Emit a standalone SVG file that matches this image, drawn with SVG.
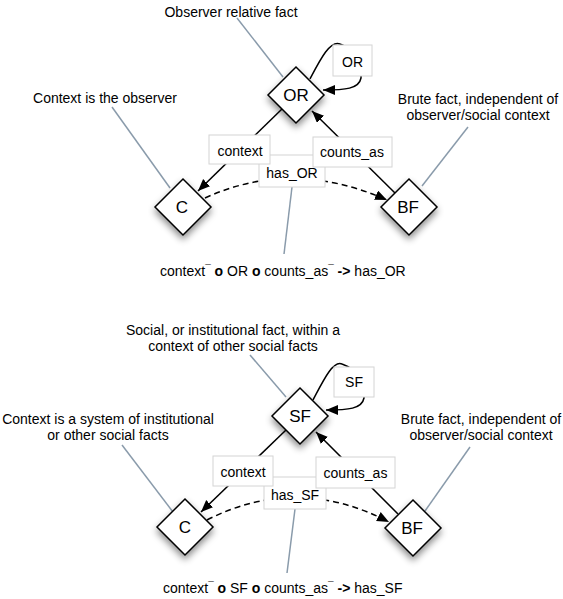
<svg xmlns="http://www.w3.org/2000/svg" width="563" height="599" viewBox="0 0 563 599">
<style>
text{font-family:"Liberation Sans",Arial,sans-serif;fill:#000}
.ann{font-size:14px;text-anchor:middle}
.lbl{font-size:14px;text-anchor:middle}
.node{font-size:17px;text-anchor:middle}
.lead{stroke:#8a9bab;stroke-width:1.5;fill:none}
.edge{stroke:#000;stroke-width:1.5;fill:none}
.dash{stroke:#000;stroke-width:1.5;fill:none;stroke-dasharray:6 4}
.box{fill:#fff;stroke:#d4d4d4;stroke-width:1}
.dia{fill:#fff;stroke:#000;stroke-width:1.5;filter:url(#sh)}
.f{font-size:14px}
</style>
<defs>
<marker id="ah" markerUnits="userSpaceOnUse" markerWidth="13" markerHeight="11" refX="12" refY="5" orient="auto">
<path d="M0,0 L12,5 L0,10 z" fill="#000"/>
</marker>
<filter id="sh" x="-50%" y="-50%" width="200%" height="200%">
<feDropShadow dx="0" dy="4" stdDeviation="3.5" flood-color="#000" flood-opacity="0.45"/>
</filter>
</defs>

<!-- annotations top -->
<g id="notes-top">
<text class="ann" x="231" y="17">Observer relative fact</text>
<text class="ann" x="105" y="103">Context is the observer</text>
<text class="ann" x="478" y="104">Brute fact, independent of</text>
<text class="ann" x="478" y="120">observer/social context</text>
<text class="f" x="160" y="276">context<tspan font-size="10" dy="-3">¯</tspan><tspan dy="3"> </tspan><tspan font-weight="bold">o</tspan> OR <tspan font-weight="bold">o</tspan> counts_as<tspan font-size="10" dy="-3">¯</tspan><tspan dy="3"> </tspan><tspan font-weight="bold">-&gt;</tspan> has_OR</text>
</g>

<g id="connectors-top">
<line class="lead" x1="237" y1="18" x2="283" y2="77"/>
<line class="lead" x1="112" y1="107" x2="170" y2="188"/>
<line class="lead" x1="468" y1="127" x2="422" y2="186"/>
<line class="lead" x1="292" y1="187" x2="284" y2="254"/>
<line class="edge" x1="283" y1="108" x2="198" y2="191" marker-end="url(#ah)"/>
<line class="edge" x1="395" y1="193" x2="312" y2="111" marker-end="url(#ah)"/>
<path class="dash" d="M205,198 Q292,158 387,200" marker-end="url(#ah)"/>
<path class="edge" d="M310,79 C320,60 330,40 340,44 C358,50 362,68 361,78 C359,89 345,90 323,90" marker-end="url(#ah)"/>
</g>

<g id="label-has_OR"><rect class="box" x="259" y="155" width="66" height="32"/><text class="lbl" x="292" y="178">has_OR</text></g>
<g id="label-context-top"><rect class="box" x="209" y="135" width="61" height="29"/><text class="lbl" x="240" y="156">context</text></g>
<g id="label-counts_as-top"><rect class="box" x="313" y="137" width="79" height="30"/><text class="lbl" x="352" y="157">counts_as</text></g>
<g id="label-OR-loop"><rect class="box" x="333" y="45" width="39" height="31"/><text class="lbl" x="352.5" y="67">OR</text></g>

<g id="node-OR"><path class="dia" d="M296,67 L324,95 L296,123 L268,95 z"/><text class="node" x="296" y="101">OR</text></g>
<g id="node-C-top"><path class="dia" d="M183,179 L211,207 L183,235 L155,207 z"/><text class="node" x="182" y="213">C</text></g>
<g id="node-BF-top"><path class="dia" d="M409,179 L437,207 L409,235 L381,207 z"/><text class="node" x="408" y="213">BF</text></g>

<!-- annotations bottom -->
<g id="notes-bottom">
<text class="ann" x="233" y="335">Social, or institutional fact, within a</text>
<text class="ann" x="233" y="351">context of other social facts</text>
<text class="ann" x="108" y="424">Context is a system of institutional</text>
<text class="ann" x="108" y="440">or other social facts</text>
<text class="ann" x="481" y="424">Brute fact, independent of</text>
<text class="ann" x="481" y="440">observer/social context</text>
<text class="f" x="163" y="593">context<tspan font-size="10" dy="-3">¯</tspan><tspan dy="3"> </tspan><tspan font-weight="bold">o</tspan> SF <tspan font-weight="bold">o</tspan> counts_as<tspan font-size="10" dy="-3">¯</tspan><tspan dy="3"> </tspan><tspan font-weight="bold">-&gt;</tspan> has_SF</text>
</g>

<g id="connectors-bottom">
<line class="lead" x1="250" y1="355" x2="286" y2="397"/>
<line class="lead" x1="122" y1="445" x2="173" y2="512"/>
<line class="lead" x1="470" y1="447" x2="425" y2="511"/>
<line class="lead" x1="295" y1="509" x2="287" y2="573"/>
<line class="edge" x1="286" y1="430" x2="201" y2="512" marker-end="url(#ah)"/>
<line class="edge" x1="398" y1="514" x2="316" y2="432" marker-end="url(#ah)"/>
<path class="dash" d="M207,520 Q297,474 389,522" marker-end="url(#ah)"/>
<path class="edge" d="M313,400 C323,381 333,360 342,364 C360,370 365,388 364,398 C362,409 348,410 326,410" marker-end="url(#ah)"/>
</g>

<g id="label-has_SF"><rect class="box" x="264" y="477" width="62" height="32"/><text class="lbl" x="295" y="500">has_SF</text></g>
<g id="label-context-bottom"><rect class="box" x="213" y="456" width="60" height="30"/><text class="lbl" x="243" y="477">context</text></g>
<g id="label-counts_as-bottom"><rect class="box" x="316" y="457" width="79" height="31"/><text class="lbl" x="355.5" y="478">counts_as</text></g>
<g id="label-SF-loop"><rect class="box" x="334" y="367" width="40" height="30"/><text class="lbl" x="354" y="387">SF</text></g>

<g id="node-SF"><path class="dia" d="M300,388 L328,416 L300,444 L272,416 z"/><text class="node" x="300" y="422">SF</text></g>
<g id="node-C-bottom"><path class="dia" d="M185,499 L213,527 L185,555 L157,527 z"/><text class="node" x="185" y="533">C</text></g>
<g id="node-BF-bottom"><path class="dia" d="M413,500 L441,528 L413,556 L385,528 z"/><text class="node" x="412" y="534">BF</text></g>
</svg>
